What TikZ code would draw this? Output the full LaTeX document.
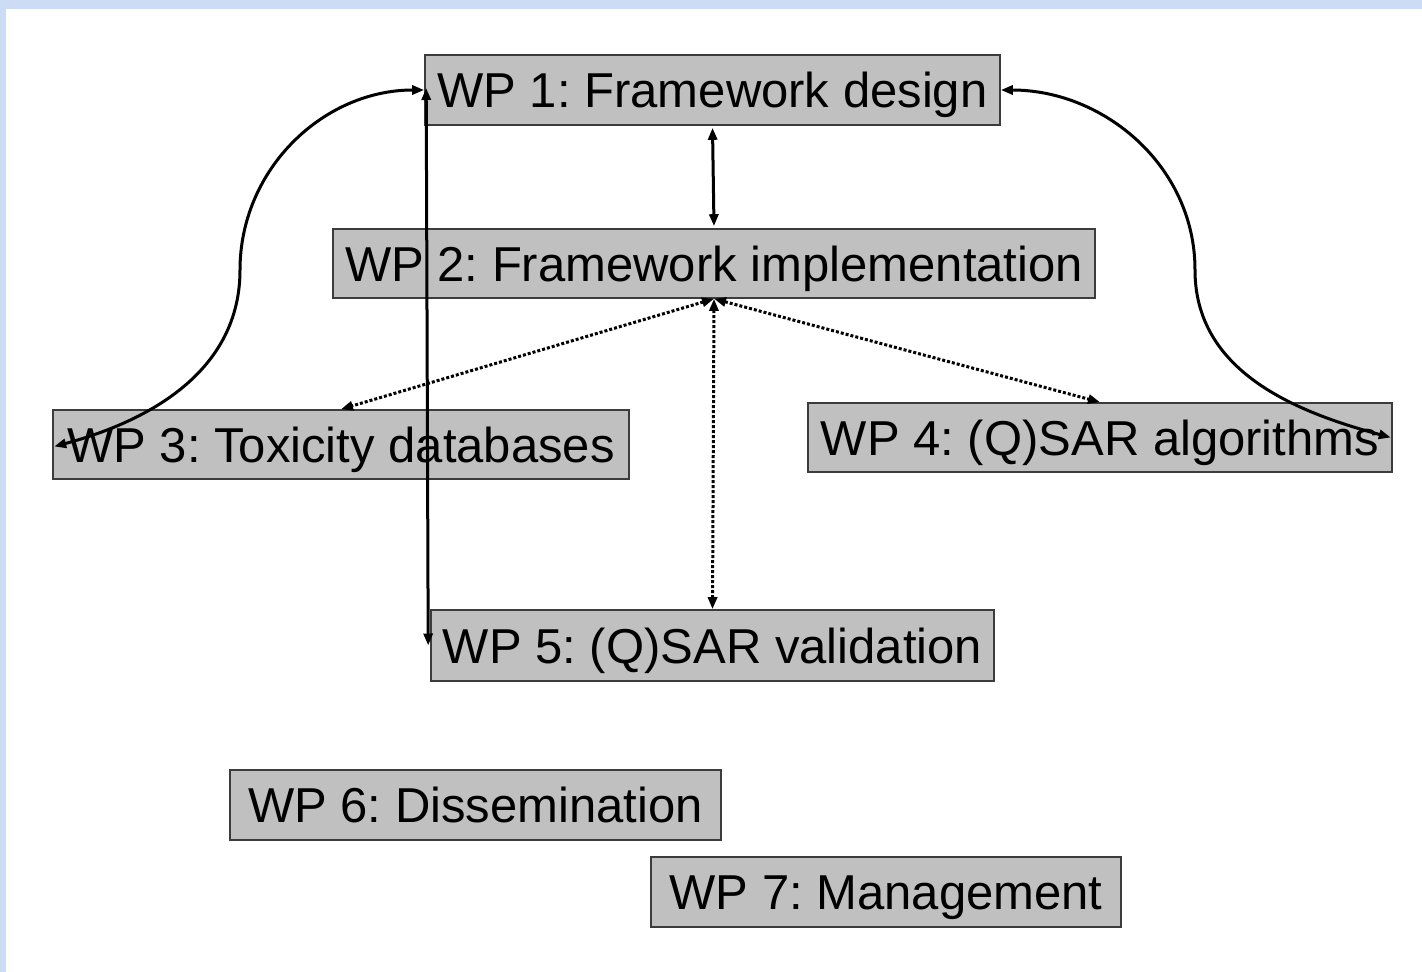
\documentclass[tikz,border=0pt]{standalone}
\usepackage{fontspec}
\setmainfont{Liberation Sans}
\usetikzlibrary{arrows.meta,calc}
\definecolor{boxgray}{RGB}{192,192,192}
\definecolor{boxline}{RGB}{60,60,60}
\definecolor{bgblue}{RGB}{205,220,245}
\frenchspacing
\begin{document}
\begin{tikzpicture}[x=1pt,y=-1pt,
  wpbox/.style={draw=boxline,line width=1.6pt,fill=boxgray,inner sep=0pt,
    font=\frenchspacing\fontsize{49}{55}\selectfont,anchor=center,minimum height=69pt,
    text height=35pt,text depth=0pt},
  tip/.style={Triangle[length=12pt,width=9pt]},
  solidlink/.style={line width=3pt,black,{Triangle[length=12pt,width=9pt]}-{Triangle[length=12pt,width=9pt]}},
  dotlink/.style={line width=3pt,black,dotted,{Triangle[length=12pt,width=9pt]}-{Triangle[length=12pt,width=9pt]}}
]
\useasboundingbox (0,0) rectangle (1422,972);
\fill[bgblue] (0,0) rectangle (1422,972);
\fill[white] (6,9) rectangle (1422,972);

\node[wpbox,minimum width=575pt,minimum height=70pt] (WP1) at (712.5,90) {WP 1: Framework design};
\node[wpbox,minimum width=762pt] (WP2) at (714,263.5) {WP 2: Framework implementation};
\node[wpbox,minimum width=576pt] (WP3) at (341,444.5) {WP 3: Toxicity databases};
\node[wpbox,minimum width=584pt] (WP4) at (1100,437.5) {WP 4: (Q)SAR algorithms};
\node[wpbox,minimum width=563pt,minimum height=71pt] (WP5) at (712.5,645.5) {WP 5: (Q)SAR validation};
\node[wpbox,minimum width=491pt,minimum height=70pt] (WP6) at (475.5,805) {WP 6: Dissemination};
\node[wpbox,minimum width=470pt,minimum height=70pt] (WP7) at (886,892) {WP 7: Management};

\coordinate (c3) at (240,270);
\coordinate (c4) at (1195,270);

\draw[solidlink] ([yshift=-2pt]WP1.south) -- ([yshift=2pt]WP2.north);
\draw[dotlink] (WP2.south) -- (WP3.north);
\draw[dotlink] (WP2.south) -- (WP4.north);
\draw[dotlink] (WP2.south) -- (WP5.north);
\draw[solidlink] (WP1.west) to[out=180,in=90] (c3) to[out=270,in=15] ([xshift=2pt,yshift=-2pt]WP3.west);
\draw[solidlink] (WP1.east) to[out=0,in=90] (c4) to[out=270,in=165] ([xshift=-2pt]WP4.east);
\draw[solidlink] ([xshift=2pt,yshift=2pt]WP1.west) -- ([xshift=-2pt]WP5.west);
\end{tikzpicture}
\end{document}
